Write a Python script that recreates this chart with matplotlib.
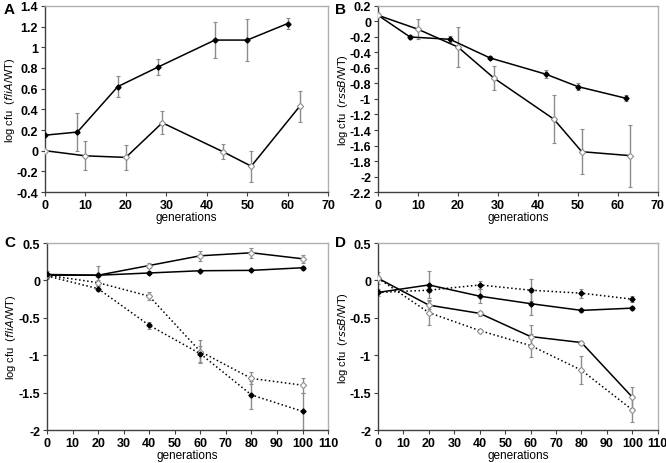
import matplotlib
matplotlib.use('Agg')
import matplotlib.pyplot as plt
from matplotlib.ticker import MultipleLocator, FuncFormatter

plt.rcParams['font.family'] = ['Liberation Sans', 'DejaVu Sans']

# Panel A - fliA, single evolution
a_fill_x = [0, 8, 18, 28, 42, 50, 60]
a_fill_y = [0.15, 0.18, 0.62, 0.81, 1.07, 1.07, 1.23]
a_fill_e = [0.0, 0.18, 0.10, 0.08, 0.17, 0.20, 0.05]
a_open_x = [0, 10, 20, 29, 44, 51, 63]
a_open_y = [0.0, -0.05, -0.065, 0.27, -0.01, -0.15, 0.43]
a_open_e = [0.0, 0.14, 0.12, 0.11, 0.07, 0.15, 0.15]

# Panel B - rssB
b_fill_x = [0, 8, 18, 28, 42, 50, 62]
b_fill_y = [0.08, -0.20, -0.23, -0.47, -0.68, -0.84, -0.99]
b_fill_e = [0.0, 0.02, 0.04, 0.02, 0.05, 0.05, 0.04]
b_open_x = [0, 10, 20, 29, 44, 51, 63]
b_open_y = [0.08, -0.10, -0.33, -0.73, -1.26, -1.68, -1.73]
b_open_e = [0.0, 0.13, 0.26, 0.16, 0.31, 0.29, 0.40]

# Panels C and D share generation points
gen_cd = [0, 20, 40, 60, 80, 100]

c_solid_open = [0.07, 0.07, 0.20, 0.33, 0.37, 0.29]
c_solid_open_e = [0.05, 0.12, 0.04, 0.07, 0.07, 0.05]
c_solid_fill = [0.08, 0.07, 0.10, 0.13, 0.135, 0.17]
c_solid_fill_e = [0.0, 0.02, 0.02, 0.01, 0.01, 0.03]
c_dot_open = [0.07, -0.03, -0.21, -0.95, -1.31, -1.40]
c_dot_open_e = [0.0, 0.04, 0.05, 0.15, 0.08, 0.10]
c_dot_fill = [0.06, -0.11, -0.60, -0.98, -1.53, -1.75]
c_dot_fill_e = [0.0, 0.03, 0.05, 0.11, 0.19, 0.25]

d_solid_fill = [-0.16, -0.06, -0.21, -0.31, -0.40, -0.37]
d_solid_fill_e = [0.05, 0.18, 0.09, 0.15, 0.02, 0.03]
d_dot_fill = [-0.16, -0.13, -0.06, -0.13, -0.17, -0.25]
d_dot_fill_e = [0.0, 0.03, 0.05, 0.15, 0.06, 0.04]
d_solid_open = [0.03, -0.33, -0.44, -0.75, -0.83, -1.56]
d_solid_open_e = [0.08, 0.05, 0.03, 0.15, 0.02, 0.14]
d_dot_open = [0.03, -0.43, -0.67, -0.87, -1.20, -1.73]
d_dot_open_e = [0.0, 0.17, 0.02, 0.15, 0.19, 0.16]

ERR = '#8c8c8c'


def series(ax, x, y, e, filled, ls='-'):
    ax.errorbar(x, y, yerr=e, fmt='none', ecolor=ERR, elinewidth=1.0,
                capsize=1.5, capthick=0.8, zorder=2)
    if filled:
        ax.plot(x, y, color='black', lw=1.1, ls=ls, marker='D', ms=2.6,
                mfc='black', mec='black', zorder=3)
    else:
        ax.plot(x, y, color='black', lw=1.1, ls=ls, marker='D', ms=3.2,
                mfc='white', mec='#909090', mew=0.8, zorder=3)


def style(ax, xmax, xstep, ymin, ymax, ystep, gene, ylab_x):
    ax.set_xlim(0, xmax)
    ax.set_ylim(ymin, ymax)
    ax.xaxis.set_major_locator(MultipleLocator(xstep))
    ax.yaxis.set_major_locator(MultipleLocator(ystep))
    ax.yaxis.set_major_formatter(FuncFormatter(lambda v, p: '%g' % round(v, 2)))
    for s in ['top', 'right']:
        ax.spines[s].set_color('#b0b0b0')
        ax.spines[s].set_linewidth(1.0)
    for s in ['left', 'bottom']:
        ax.spines[s].set_color('#404040')
        ax.spines[s].set_linewidth(1.0)
    ax.tick_params(direction='out', length=3, width=0.8, color='#404040',
                   labelsize=9, pad=2)
    for t in ax.get_xticklabels() + ax.get_yticklabels():
        t.set_fontweight('bold')
    ax.set_xlabel('generations', fontsize=8.5, labelpad=0)
    ax.set_ylabel('log cfu  ($\\it{' + gene + '}$/WT)', fontsize=8)
    ax.yaxis.set_label_coords(ylab_x, 0.5)


fig = plt.figure(figsize=(6.66, 4.64), dpi=100)

axA = fig.add_axes([0.0676, 0.584, 0.425, 0.401])
series(axA, a_fill_x, a_fill_y, a_fill_e, True)
series(axA, a_open_x, a_open_y, a_open_e, False)
style(axA, 70, 10, -0.4, 1.4, 0.2, 'fliA', -0.1)

axB = fig.add_axes([0.5676, 0.584, 0.420, 0.401])
series(axB, b_fill_x, b_fill_y, b_fill_e, True)
series(axB, b_open_x, b_open_y, b_open_e, False)
style(axB, 70, 10, -2.2, 0.2, 0.2, 'rssB', -0.1)

axC = fig.add_axes([0.0706, 0.071, 0.422, 0.403])
series(axC, gen_cd, c_dot_open, c_dot_open_e, False, ':')
series(axC, gen_cd, c_dot_fill, c_dot_fill_e, True, ':')
series(axC, gen_cd, c_solid_open, c_solid_open_e, False)
series(axC, gen_cd, c_solid_fill, c_solid_fill_e, True)
style(axC, 110, 10, -2, 0.5, 0.5, 'fliA', -0.105)

axD = fig.add_axes([0.5676, 0.071, 0.420, 0.403])
series(axD, gen_cd, d_dot_open, d_dot_open_e, False, ':')
series(axD, gen_cd, d_dot_fill, d_dot_fill_e, True, ':')
series(axD, gen_cd, d_solid_open, d_solid_open_e, False)
series(axD, gen_cd, d_solid_fill, d_solid_fill_e, True)
style(axD, 110, 10, -2, 0.5, 0.5, 'rssB', -0.1)

# panel letters
for lx, ly, lt in [(0.006, 0.978, 'A'), (0.503, 0.978, 'B'),
                   (0.006, 0.476, 'C'), (0.503, 0.476, 'D')]:
    fig.text(lx, ly, lt, fontsize=11, fontweight='bold', va='center', ha='left')

fig.savefig('out.png', dpi=100)
